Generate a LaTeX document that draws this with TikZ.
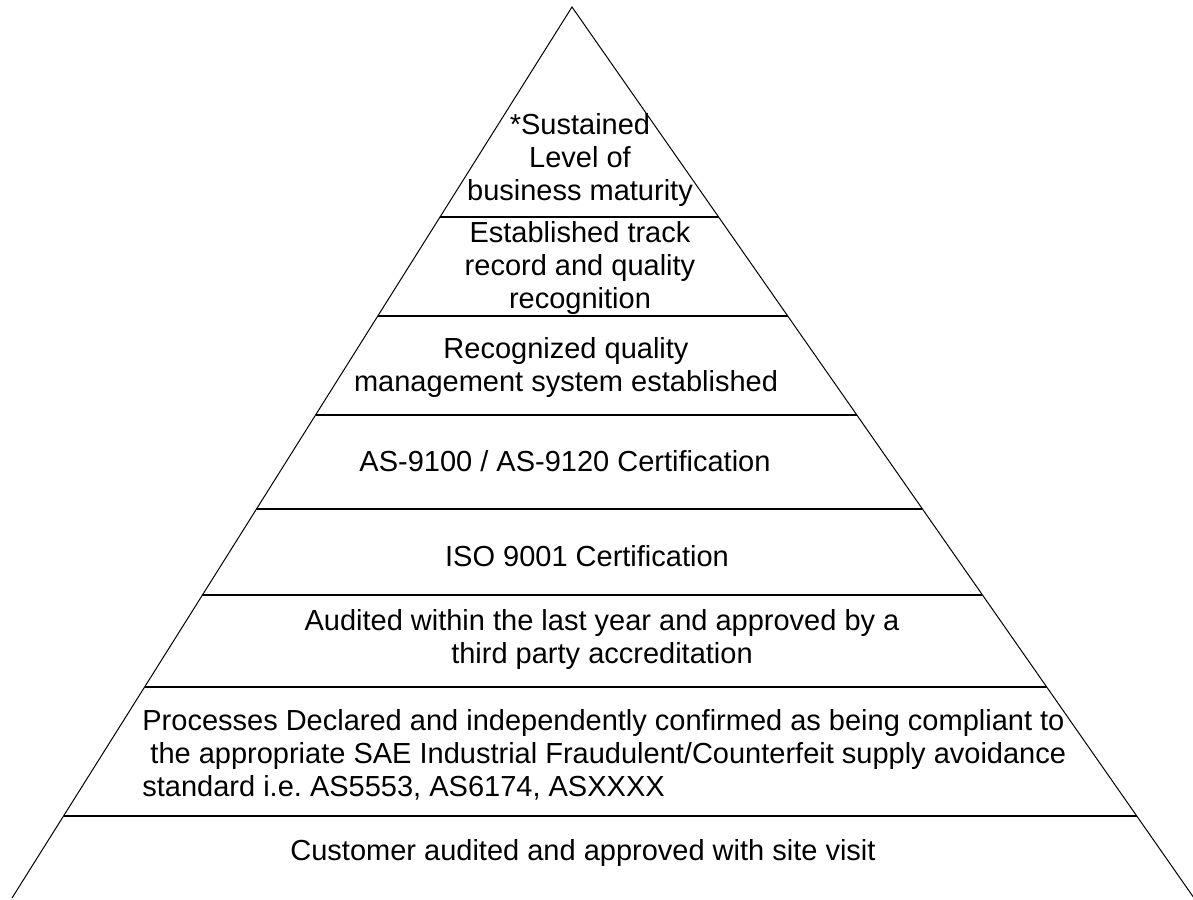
\documentclass[tikz,border=0pt]{standalone}
\usepackage{fontspec}
\setmainfont{Liberation Sans}
\usetikzlibrary{calc}
\frenchspacing

\begin{document}
\begin{tikzpicture}[
    x=0.5pt, y=-0.5pt,
    side/.style={draw, line width=0.5pt},
    tier/.style={draw, line width=1pt},
    lbl/.style={align=center, font=\fontsize{14.5}{16.5}\selectfont, inner sep=0pt}
]
    \useasboundingbox (0,0) rectangle (1193,899);
    \coordinate (apex) at (572,7);
    \coordinate (bl) at (12,898);
    \coordinate (br) at (1194,898);

    \draw[side] (bl) -- (apex) -- (br);
    \foreach \y in {217,316,415,509,595,687,816}
        \draw[tier] ($(apex)!{(\y-7)/891}!(bl)$) -- ($(apex)!{(\y-7)/891}!(br)$);

    \node[lbl] (t1) at (580,160) {*Sustained\\Level of\\business maturity};
    \node[lbl] (t2) at (580,268) {Established track\\record and quality\\recognition};
    \node[lbl] (t3) at (566,367) {Recognized quality\\management system established};
    \node[lbl] (t4) at (565,461) {AS-9100 / AS-9120 Certification};
    \node[lbl] (t5) at (587,556) {ISO 9001 Certification};
    \node[lbl] (t6) at (602,639) {Audited within the last year and approved by a\\third party accreditation};
    \node[lbl, align=left, anchor=west] (t7) at (142,755) {Processes Declared and independently confirmed as being compliant to\\\ the appropriate SAE Industrial Fraudulent/Counterfeit supply avoidance\\standard i.e. AS5553, AS6174, ASXXXX};
    \node[lbl] (t8) at (583,853) {Customer audited and approved with site visit};
\end{tikzpicture}
\end{document}
